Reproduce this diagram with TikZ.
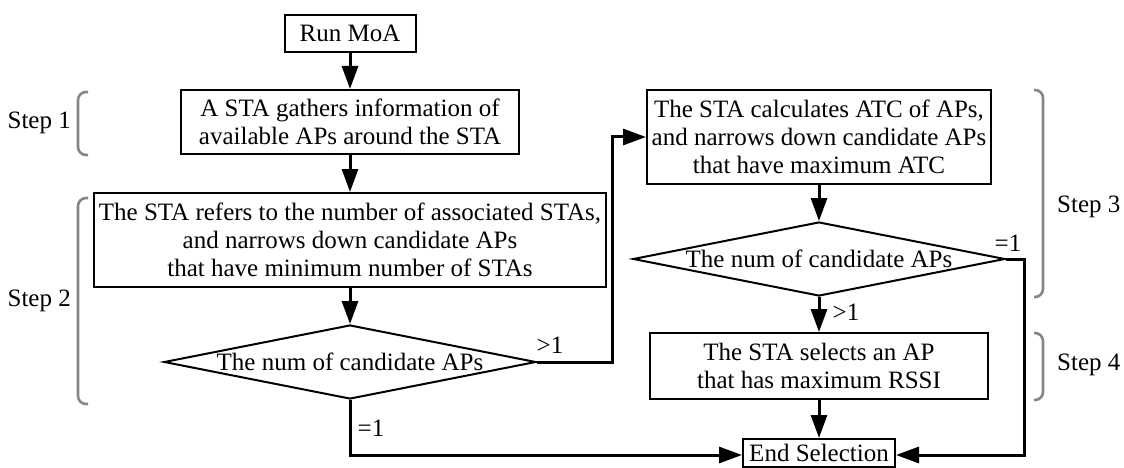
\documentclass[tikz,border=0pt]{standalone}
\usepackage{fontspec}
\setmainfont{Liberation Serif}
\usetikzlibrary{arrows.meta,shapes.geometric}

\tikzset{
  txt/.style={font=\fontsize{25}{28}\selectfont, inner sep=0pt, align=center},
  procbox/.style={txt, draw=black, line width=2pt},
  decision/.style={draw=black, line width=2pt, diamond, inner sep=0pt,
    minimum width=372pt, minimum height=74pt},
  flow/.style={draw=black, line width=3pt,
    -{Triangle[length=23pt,width=16pt]}},
  bracket/.style={draw=gray!95!white, line width=2.6pt, rounded corners=8pt},
  steplabel/.style={txt, inner sep=0pt},
}

\begin{document}
\begin{tikzpicture}[x=1pt,y=-1pt]
\useasboundingbox (0,0) rectangle (1124,468);

% left column
\node[procbox, minimum width=131pt, minimum height=37pt] (run) at (350,33.5) {Run MoA};
\node[procbox, minimum width=338pt, minimum height=64pt] (s1) at (350,122)
  {A STA gathers information of\\available APs around the STA};
\node[procbox, minimum width=512pt, minimum height=94pt] (s2) at (350,240)
  {The STA refers to the number of associated STAs,\\and narrows down candidate APs\\that have minimum number of STAs};
\node[decision, label={[txt]center:The num of candidate APs}] (d1) at (350,362) {};

% right column
\node[procbox, minimum width=344pt, minimum height=94pt] (s3) at (819,137)
  {The STA calculates ATC of APs,\\and narrows down candidate APs\\that have maximum ATC};
\node[decision, label={[txt]center:The num of candidate APs}] (d2) at (819,259) {};
\node[procbox, minimum width=338pt, minimum height=66pt] (s4) at (819,366)
  {The STA selects an AP\\that has maximum RSSI};
\node[procbox, minimum width=152pt, minimum height=28pt] (end) at (819,453) {End Selection};

% connectors
\coordinate (k1) at (612,362);
\coordinate (k2) at (1024,259);
\draw[flow] (run) -- (s1);
\draw[flow] (s1) -- (s2);
\draw[flow] (s2) -- (d1);
\draw[flow] (d1.east) -- (k1) |- (s3.west);
\draw[flow] (s3) -- (d2);
\draw[flow] (d2) -- (s4);
\draw[flow] (s4) -- (end);
\draw[flow] (d1.south) |- ([yshift=-2pt]end.west);
\draw[flow] (d2.east) -- (k2) |- ([yshift=-2pt]end.east);

% branch labels
\node[txt] (g1) at (550,345) {>1};
\node[txt] (e1) at (371,428) {=1};
\node[txt] (g2) at (846,312) {>1};
\node[txt] (e2) at (1008,243) {=1};

% step brackets
\draw[bracket] (88,92) -- (78,92) -- (78,155) -- (88,155);
\draw[bracket] (88,198) -- (78,198) -- (78,404) -- (88,404);
\draw[bracket] (1034,90) -- (1043,90) -- (1043,297) -- (1034,297);
\draw[bracket] (1034,333) -- (1043,333) -- (1043,400) -- (1034,400);

\node[steplabel, anchor=east] (l1) at (71,123) {Step 1};
\node[steplabel, anchor=east] (l2) at (71,301) {Step 2};
\node[steplabel, anchor=west] (l3) at (1057,207) {Step 3};
\node[steplabel, anchor=west] (l4) at (1057,365) {Step 4};
\end{tikzpicture}
\end{document}
